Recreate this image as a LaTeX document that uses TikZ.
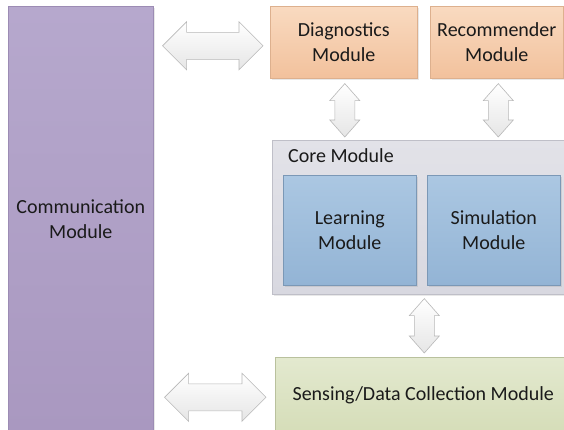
\documentclass[tikz,border=0pt]{standalone}
\usepackage{fontspec}
\setmainfont{Carlito}
\usetikzlibrary{calc,shadows}
\definecolor{txt}{HTML}{1A1A1A}
\definecolor{purT}{HTML}{B6A8CD}
\definecolor{purB}{HTML}{A998C0}
\definecolor{purD}{HTML}{9C8CB4}
\definecolor{orT}{HTML}{F9DAC0}
\definecolor{orB}{HTML}{F2C19C}
\definecolor{orD}{HTML}{DDB08E}
\definecolor{grT}{HTML}{E2E2E8}
\definecolor{grB}{HTML}{D8D8E0}
\definecolor{grD}{HTML}{BFBFC8}
\definecolor{blT}{HTML}{ABC7E2}
\definecolor{blB}{HTML}{93B4D5}
\definecolor{blD}{HTML}{7B98B6}
\definecolor{gnT}{HTML}{E3E9CF}
\definecolor{gnB}{HTML}{D5DDB8}
\definecolor{gnD}{HTML}{B9C19D}
\definecolor{arD}{HTML}{B8B8B8}
\tikzset{
  box/.style={rectangle, anchor=north west, inner sep=0pt, align=center,
    text=txt, font=\fontsize{20}{25}\selectfont, line width=0.6pt,
    drop shadow={shadow xshift=1.2pt, shadow yshift=-1.2pt, opacity=0.18}},
  commbox/.style={box, draw=purD, top color=purT, bottom color=purB},
  orbox/.style={box, draw=orD, top color=orT, bottom color=orB},
  corebox/.style={box, draw=grD, top color=grT, bottom color=grB},
  blbox/.style={box, draw=blD, top color=blT, bottom color=blB},
  gnbox/.style={box, draw=gnD, top color=gnT, bottom color=gnB},
  barrow/.style={draw=arD, line width=0.6pt, line join=miter,
    top color=white, bottom color=black!10},
  lbl/.style={inner sep=0pt, text=txt, font=\fontsize{20}{25}\selectfont}
}
% horizontal double block arrow: #1 left tip, #2 right tip
\newcommand\hdarrow[2]{%
  \draw[barrow] let \p1=#1, \p2=#2 in
    (\x1,\y1) -- (\x1+24pt,\y1+24pt) -- (\x1+24pt,\y1+13.5pt) --
    (\x2-24pt,\y1+13.5pt) -- (\x2-24pt,\y1+24pt) -- (\x2,\y1) --
    (\x2-24pt,\y1-24pt) -- (\x2-24pt,\y1-13.5pt) -- (\x1+24pt,\y1-13.5pt) --
    (\x1+24pt,\y1-24pt) -- cycle;}
% vertical double block arrow: #1 top tip, #2 bottom tip
\newcommand\vdarrow[2]{%
  \draw[barrow] let \p1=#1, \p2=#2 in
    (\x1,\y1) -- (\x1+15pt,\y1-17pt) -- (\x1+10pt,\y1-17pt) --
    (\x1+10pt,\y2+17pt) -- (\x1+15pt,\y2+17pt) -- (\x1,\y2) --
    (\x1-15pt,\y2+17pt) -- (\x1-10pt,\y2+17pt) -- (\x1-10pt,\y1-17pt) --
    (\x1-15pt,\y1-17pt) -- cycle;}
\begin{document}
\begin{tikzpicture}[x=1pt,y=-1pt]
\useasboundingbox[fill=white] (0,0) rectangle (564,429);
\node[commbox, minimum width=145pt, minimum height=426pt] (comm) at (8,6) {Communication\\Module};
\node[orbox, minimum width=147pt, minimum height=72pt] (diag) at (270,6) {Diagnostics\\Module};
\node[orbox, minimum width=133pt, minimum height=72pt] (rec) at (430,6) {Recommender\\Module};
\node[corebox, minimum width=296pt, minimum height=154pt] (core) at (272,140) {};
\node[lbl, anchor=base west] (corelbl) at ($(core.north west)+(16,22)$) {Core Module};
\node[blbox, minimum width=133pt, minimum height=110pt] (learn) at (283,175) {Learning\\Module};
\node[blbox, minimum width=133pt, minimum height=110pt] (sim) at (427,175) {Simulation\\Module};
\node[gnbox, minimum width=296pt, minimum height=76pt] (sense) at (275,357) {Sensing/Data Collection Module};
% connectors
\hdarrow{($(comm.east|-diag.west)+(9,3.5)$)}{($(diag.west)+(-7,3.5)$)}
\hdarrow{($(comm.east|-sense.west)+(11,2)$)}{($(sense.west)+(-9,2)$)}
\vdarrow{($(diag.south)+(1,5)$)}{($(diag.south|-core.north)+(1,-3)$)}
\vdarrow{($(rec.south)+(1.5,5)$)}{($(rec.south|-core.north)+(1.5,-3)$)}
\vdarrow{($(core.south)+(4,4)$)}{($(core.south|-sense.north)+(4,-4)$)}
\end{tikzpicture}
\end{document}
